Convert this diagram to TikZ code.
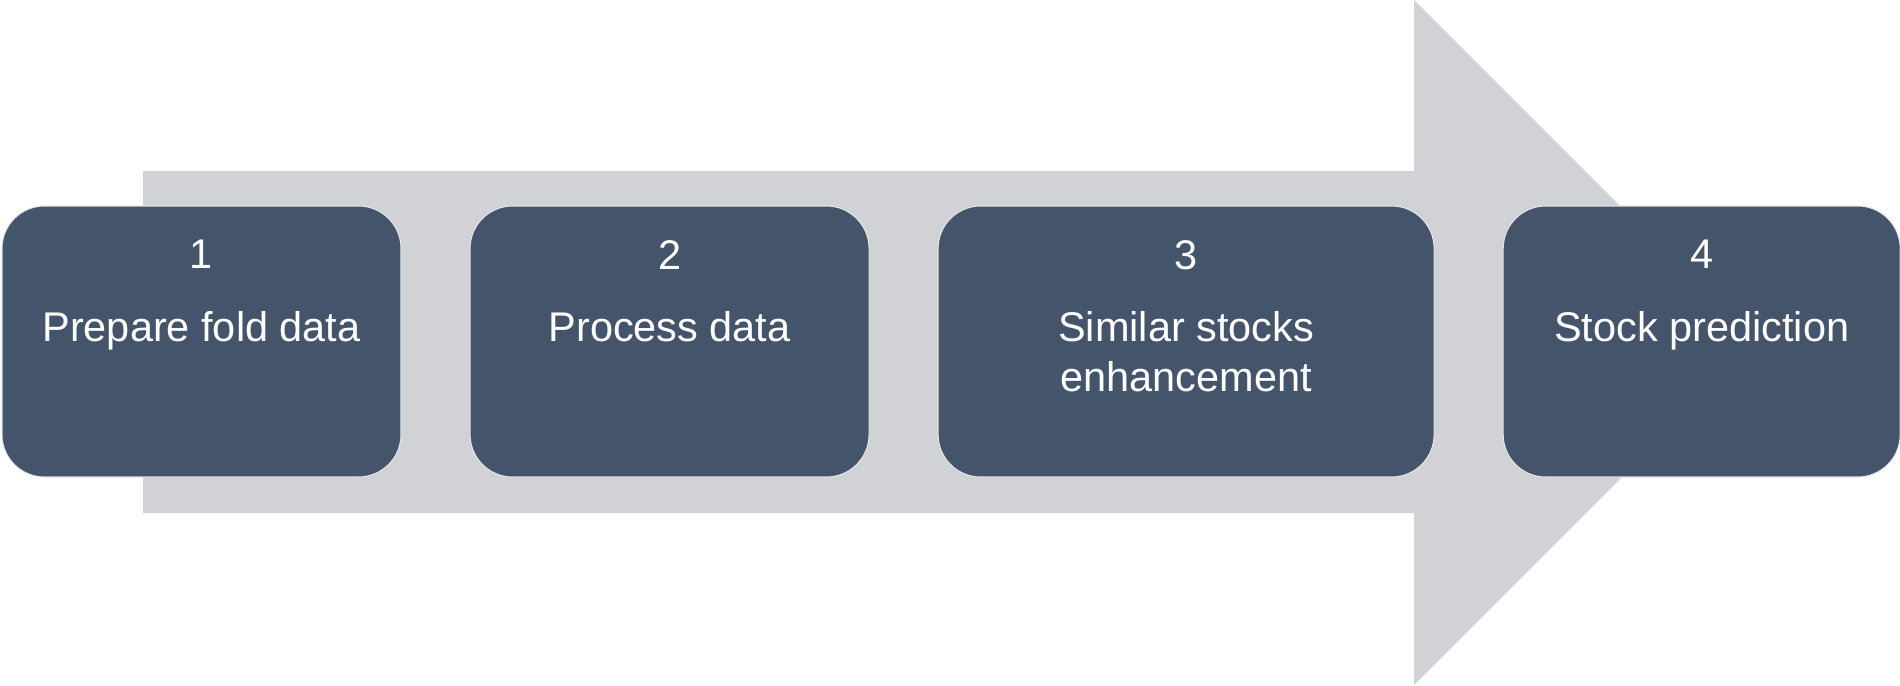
\documentclass[tikz,border=0pt]{standalone}
\usepackage{fontspec}
\setmainfont{Liberation Sans}
\usetikzlibrary{positioning}
\definecolor{slateblue}{HTML}{44546A}
\definecolor{shaftgrey}{HTML}{D0D2D6}
\definecolor{rimgrey}{HTML}{E4E5E8}

\begin{document}
\begin{tikzpicture}[
  node distance=1.36cm,
  stepbox/.style={draw=rimgrey, line width=0.6pt, fill=slateblue, rounded corners=0.85cm, minimum width=7.98cm, minimum height=5.42cm, inner sep=0pt},
  steptext/.style={text=white, align=center, anchor=north, inner sep=0pt, font=\fontsize{23.6}{28.45}\selectfont}
]
\useasboundingbox (0,0) rectangle (38,13.7);
% big grey arrow behind the steps
\fill[shaftgrey] (2.86,10.28) -- (28.28,10.28) -- (28.28,13.7) -- (35.13,6.85)
  -- (28.28,0) -- (28.28,3.44) -- (2.86,3.44) -- cycle;

\node[stepbox] (prep) at (4.03,6.87) {};
\node[stepbox, right=of prep] (proc) {};
\node[stepbox, right=of proc, minimum width=9.92cm] (sim) {};
\node[stepbox, right=of sim, minimum width=7.94cm] (pred) {};

\node[steptext] (preptxt) at ([yshift=-0.69cm]prep.north) {1\\[0.45cm]Prepare fold data};
\node[steptext] (proctxt) at ([yshift=-0.69cm]proc.north) {2\\[0.45cm]Process data};
\node[steptext] (simtxt) at ([yshift=-0.69cm]sim.north) {3\\[0.45cm]Similar stocks\\enhancement};
\node[steptext] (predtxt) at ([yshift=-0.69cm]pred.north) {4\\[0.45cm]Stock prediction};
\end{tikzpicture}
\end{document}
